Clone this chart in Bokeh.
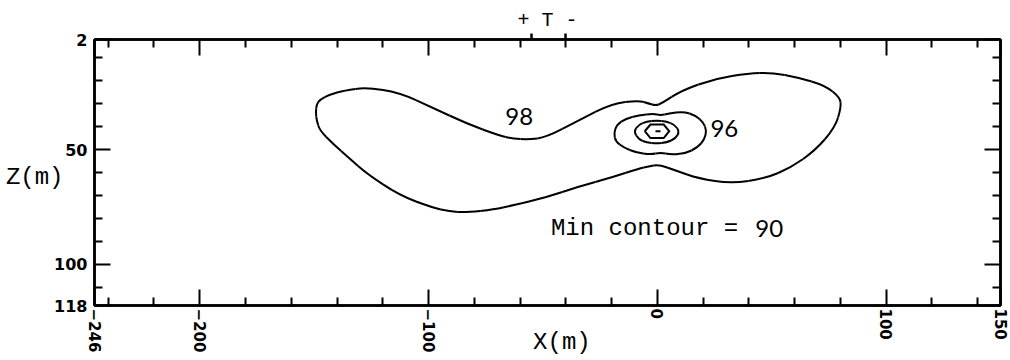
from bokeh.plotting import figure
from bokeh.models import Range1d, LinearAxis, FixedTicker, Label, ColumnDataSource
from bokeh.embed import file_html
from bokeh.resources import INLINE

# Contour levels (outer to inner) and their traced outlines, X and Z in metres
levels = [98, 96, 94, 92, 90]

c98_x = [-149.3, -148.9, -147.5, -143.2, -136.7, -127.1, -112.7, -98.3, -83.5, -69.1,
         -63.5, -56.1, -48.7, -34.3, -19.9, -8.1, -3.8, -0.7, 1.9, 10.6,
         25.4, 39.8, 49.8, 61.6, 73.3, 79.9, 80.3, 77.7, 69.0, 58.5,
         47.2, 32.4, 18.0, 8.0, 0.6, -3.8, -8.1, -19.9, -34.3, -48.7,
         -63.5, -71.3, -83.5, -90.9, -98.3, -112.7, -127.1, -134.5, -141.9, -147.5,
         -148.9]
c98_z = [33.8, 30.3, 28.2, 26.0, 24.2, 22.9, 25.1, 31.7, 38.6, 43.9,
         45.2, 45.6, 44.7, 37.3, 29.9, 28.6, 29.9, 30.8, 29.9, 24.2,
         19.0, 16.8, 16.4, 18.6, 22.1, 27.3, 31.7, 40.4, 50.4, 57.8,
         62.6, 64.8, 62.6, 59.1, 56.5, 57.4, 58.3, 62.2, 66.1, 70.9,
         74.4, 76.1, 77.4, 77.0, 75.3, 70.0, 60.4, 53.9, 47.4, 41.7,
         37.3]

c96_x = [-19.0, -17.7, -13.8, -8.1, -1.6, 1.4, 4.9, 11.5, 16.7, 20.2,
         21.5, 20.6, 17.6, 12.3, 5.8, 1.4, -2.9, -9.4, -14.7, -18.2]
c96_z = [43.0, 39.1, 36.5, 35.1, 34.3, 35.1, 34.3, 33.4, 35.1, 38.2,
         41.7, 45.6, 49.1, 51.7, 52.2, 51.3, 52.2, 51.3, 49.1, 46.5]

c94_x = [-10.3, -8.1, -4.7, -0.3, 4.1, 7.5, 9.7, 8.0, 4.1, -0.3, -4.7, -8.1]
c94_z = [42.1, 39.1, 37.8, 37.3, 37.8, 39.1, 42.1, 45.2, 46.9, 47.4, 46.9, 45.6]

c92_x = [-5.5, -3.0, 2.8, 5.2, 2.8, -3.0]
c92_z = [42.0, 39.1, 39.1, 42.0, 45.0, 45.0]

c90_x = [-0.8, 1.4]
c90_z = [42.0, 42.0]

# Axis ticks
x_major = [-246, -200, -100, 0, 100, 150]
x_minor = [-240, -220, -180, -160, -140, -120, -80, -60, -40, -20,
           20, 40, 60, 80, 120, 140]
z_major = [2, 50, 100, 118]
z_minor = [10, 20, 30, 40, 60, 70, 80, 90, 110]

# Transmitter electrode positions marked on the top edge
tx_marks = [-55, -40]

# depth at which the Z(m) caption sits beside the left axis
z_title_at = 62


def rounded_segments(xs, zs):
    """Closed outline drawn as quadratic pieces between edge midpoints."""
    n = len(xs)
    seg = dict(x0=[], y0=[], x1=[], y1=[], cx=[], cy=[])
    for i in range(n):
        xp, zp = xs[i - 1], zs[i - 1]
        xc, zc = xs[i], zs[i]
        xn, zn = xs[(i + 1) % n], zs[(i + 1) % n]
        seg["x0"].append((xp + xc) / 2)
        seg["y0"].append((zp + zc) / 2)
        seg["x1"].append((xc + xn) / 2)
        seg["y1"].append((zc + zn) / 2)
        seg["cx"].append(xc)
        seg["cy"].append(zc)
    return seg


def closed(xs, zs):
    return list(xs) + [xs[0]], list(zs) + [zs[0]]


p = figure(width=1010, height=360,
           x_range=Range1d(-246, 150), y_range=Range1d(118, 2),
           output_backend="svg", toolbar_location=None,
           min_border_left=94, min_border_right=10,
           min_border_top=39, min_border_bottom=55)
p.grid.visible = False
p.background_fill_color = "white"
p.border_fill_color = "white"
p.outline_line_color = "black"
p.outline_line_width = 2.5

# smooth contours: 98, 96, 94
for cx_, cz_ in [(c98_x, c98_z), (c96_x, c96_z), (c94_x, c94_z)]:
    p.quadratic(source=ColumnDataSource(rounded_segments(cx_, cz_)),
                x0="x0", y0="y0", x1="x1", y1="y1", cx="cx", cy="cy",
                line_color="black", line_width=2)

# innermost contours: 92 (hexagonal) and the 90 minimum
inner = [closed(c92_x, c92_z), closed(c90_x, c90_z)]
p.multi_line(xs=[o[0] for o in inner], ys=[o[1] for o in inner],
             line_color="black", line_width=2, line_join="miter")


def style_axis(ax, major, minor, show_labels):
    ax.ticker = FixedTicker(ticks=major, minor_ticks=minor)
    ax.axis_line_color = "black"
    ax.axis_line_width = 2.5
    ax.major_tick_line_width = 2
    ax.minor_tick_line_width = 2
    ax.major_tick_line_color = "black"
    ax.minor_tick_line_color = "black"
    ax.major_tick_in = 16
    ax.major_tick_out = 0
    ax.minor_tick_in = 8
    ax.minor_tick_out = 0
    if show_labels:
        ax.major_label_text_font = "DejaVu Sans"
        ax.major_label_text_font_style = "bold"
        ax.major_label_text_font_size = "16px"
        ax.major_label_text_color = "black"
    else:
        ax.major_label_overrides = {t: "" for t in major}
        ax.major_label_standoff = 0
        ax.major_label_text_font_size = "0px"


def caption_axis(ticks, overrides, font_size, standoff):
    """Axis used only to carry a caption outside the frame."""
    ax = LinearAxis(ticker=FixedTicker(ticks=ticks, minor_ticks=[]))
    ax.axis_line_color = None
    ax.major_tick_line_color = None
    ax.minor_tick_line_color = None
    ax.major_tick_in = 0
    ax.major_tick_out = 0
    ax.major_label_overrides = overrides
    ax.major_label_text_font = mono
    ax.major_label_text_font_size = font_size
    ax.major_label_text_color = "black"
    ax.major_label_standoff = standoff
    return ax


mono = "Liberation Mono"
sans = "Lato"

xb = p.xaxis[0]
style_axis(xb, x_major, x_minor, True)
xb.major_label_text_font_size = "15px"
xb.major_label_orientation = "vertical"
xb.major_label_standoff = 3
xb.axis_label = "\u00a0\u00a0X(m)"
xb.axis_label_text_font = mono
xb.axis_label_text_font_size = "24px"
xb.axis_label_text_font_style = "normal"
xb.axis_label_text_color = "black"
xb.axis_label_standoff = -26

yl = p.yaxis[0]
style_axis(yl, z_major, z_minor, True)
yl.major_label_standoff = 7

# horizontal Z(m) caption beside the depth labels
yz = caption_axis([z_title_at], {z_title_at: "Z(m)"}, "24px", -12)
p.add_layout(yz, "left")

xt = LinearAxis()
style_axis(xt, x_major, x_minor, False)
p.add_layout(xt, "above")

# electrode marks and the "+ T -" caption sit just outside the top edge
xm = LinearAxis(ticker=FixedTicker(ticks=tx_marks, minor_ticks=[]))
xm.axis_line_color = None
xm.major_tick_in = 0
xm.major_tick_out = 6
xm.major_tick_line_width = 2.5
xm.major_tick_line_color = "black"
xm.minor_tick_line_color = None
xm.major_label_overrides = {t: "" for t in tx_marks}
xm.major_label_standoff = 0
xm.major_label_text_font_size = "0px"
xm.axis_label = "+ T -"
xm.axis_label_text_font = mono
xm.axis_label_text_font_size = "20px"
xm.axis_label_text_font_style = "normal"
xm.axis_label_text_color = "black"
xm.axis_label_standoff = 2
p.add_layout(xm, "above")

yr = LinearAxis()
style_axis(yr, z_major, z_minor, False)
p.add_layout(yr, "right")

# Contour value labels
p.add_layout(Label(x=-60.4, y=35.6, text=str(levels[0]), text_font=sans,
                   text_font_size="24px", text_align="center",
                   text_baseline="middle", text_color="black"))
p.add_layout(Label(x=29.3, y=40.6, text=str(levels[1]), text_font=sans,
                   text_font_size="24px", text_align="center",
                   text_baseline="middle", text_color="black"))
p.add_layout(Label(x=-46.5, y=84.3, text="Min contour =", text_font=mono,
                   text_font_size="24px", text_align="left",
                   text_baseline="middle", text_color="black"))
p.add_layout(Label(x=42.8, y=84.3, text=str(min(levels)), text_font=sans,
                   text_font_size="24px", text_align="left",
                   text_baseline="middle", text_color="black"))

open("out.html", "w").write(file_html(p, INLINE))
